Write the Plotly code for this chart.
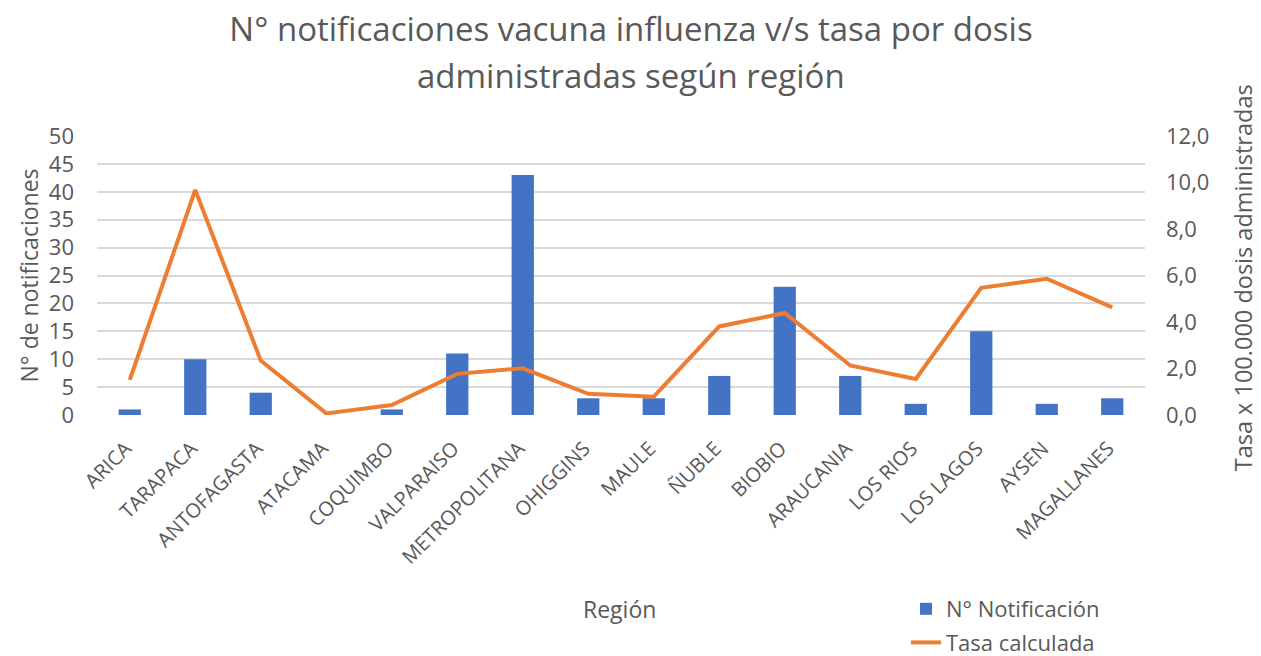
import plotly.graph_objects as go

regiones = ["ARICA", "TARAPACA", "ANTOFAGASTA", "ATACAMA", "COQUIMBO", "VALPARAISO",
            "METROPOLITANA", "OHIGGINS", "MAULE", "ÑUBLE", "BIOBIO", "ARAUCANIA",
            "LOS RIOS", "LOS LAGOS", "AYSEN", "MAGALLANES"]
notificaciones = [1, 10, 4, 0, 1, 11, 43, 3, 3, 7, 23, 7, 2, 15, 2, 3]
tasa = [1.51, 9.68, 2.34, 0.07, 0.43, 1.77, 2.01, 0.91, 0.79, 3.81, 4.39, 2.13, 1.55, 5.47, 5.86, 4.63]

titulo_1 = "N° notificaciones vacuna influenza v/s tasa por dosis"
titulo_2 = "administradas según región"

FONT = "Open Sans"
GRAY = "#595959"

W, H = 1253, 648
L, R, T, B = 89, 116, 128, 241
PW = W - L - R
PH = H - T - B

fig = go.Figure()
fig.add_trace(go.Bar(x=regiones, y=notificaciones, name="N° Notificación", legendgroup="a",
                     marker=dict(color="#4472C4", line=dict(width=0)), yaxis="y"))
fig.add_trace(go.Scatter(x=regiones, y=tasa, name="Tasa calculada", mode="lines", legendgroup="b",
                         line=dict(color="#ED7D31", width=4), yaxis="y2"))

fig.update_layout(
    width=W, height=H,
    margin=dict(l=L, r=R, t=T, b=B, autoexpand=False),
    paper_bgcolor="white", plot_bgcolor="white",
    separators=",.",
    font=dict(family=FONT, color=GRAY, size=19),
    title=dict(text=titulo_1, x=623 / W, xref="container", xanchor="center",
               y=1 - 21 / H, yref="container", yanchor="middle",
               font=dict(size=33, color=GRAY, family=FONT)),
    bargap=0.66,
    showlegend=True,
    legend=dict(x=(898 - L) / PW, xref="paper", xanchor="left",
                y=(PH + T - 580) / PH, yref="paper", yanchor="top",
                font=dict(size=22, color=GRAY),
                bgcolor="rgba(0,0,0,0)", traceorder="grouped", tracegroupgap=2),
    xaxis=dict(tickangle=-45, tickfont=dict(size=20, color=GRAY), showgrid=False,
               showline=False, ticks="", automargin=False, ticklabelstandoff=17,
               ticklabelshift=-4),
    yaxis=dict(range=[0, 50], dtick=5, showgrid=True, gridcolor="#D9D9D9", gridwidth=1.5,
               zeroline=False, showline=False, ticks="", tickfont=dict(size=22, color=GRAY),
               ticklabelstandoff=22, automargin=False),
    yaxis2=dict(range=[0, 12], dtick=2, tickformat=".1f", overlaying="y", side="right",
                showgrid=False, zeroline=False, showline=False, ticks="",
                tickfont=dict(size=22, color=GRAY), ticklabelstandoff=20, automargin=False),
    annotations=[
        dict(text=titulo_2, x=(623 - L) / PW, xref="paper", y=(PH + T - 67) / PH, yref="paper",
             showarrow=False, font=dict(size=33, color=GRAY), xanchor="center", yanchor="middle"),
        dict(text="N° de notificaciones", textangle=-90, x=(20 - L) / PW, xref="paper",
             y=0.5, yref="paper", showarrow=False, font=dict(size=23, color=GRAY),
             xanchor="center", yanchor="middle"),
        dict(text="Región", x=(611 - L) / PW, xref="paper", y=(PH + T - 601) / PH, yref="paper",
             showarrow=False, font=dict(size=23, color=GRAY), xanchor="center", yanchor="middle"),
        dict(text="Tasa x 100.000 dosis administradas", textangle=-90, x=(1235 - L) / PW,
             xref="paper", y=0.49, yref="paper", showarrow=False,
             font=dict(size=23.5, color=GRAY), xanchor="center", yanchor="middle"),
    ],
)

fig.write_html("out.html")
